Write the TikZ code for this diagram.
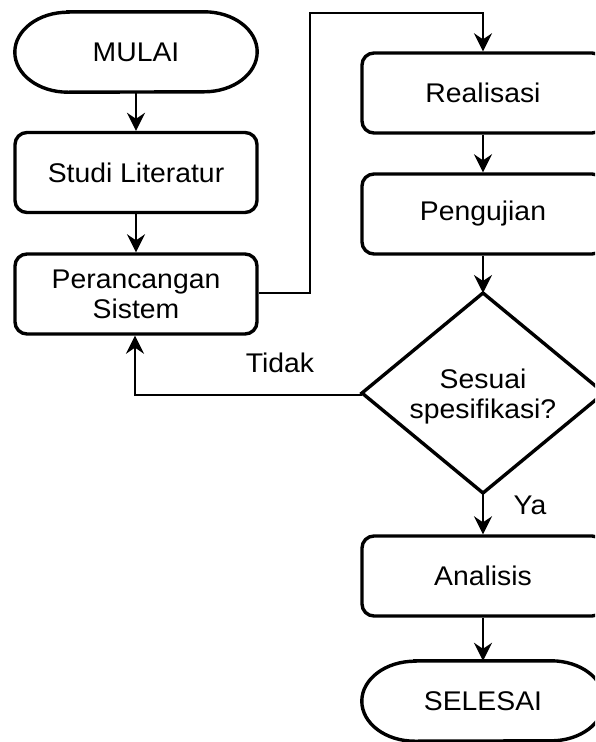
\documentclass[tikz,border=0pt]{standalone}
\usepackage{fontspec}
\setmainfont{Liberation Sans}[FakeStretch=1.05]
\usetikzlibrary{arrows.meta,shapes.geometric,calc}
\begin{document}
\begin{tikzpicture}[x=1pt,y=-1pt,
  lbl/.style={font=\fontsize{27}{30}\selectfont, align=center, inner sep=0pt},
  procbox/.style={lbl, draw, line width=3.4pt, rounded corners=12pt, minimum width=242pt, minimum height=80pt},
  termbox/.style={lbl, minimum width=242pt, minimum height=80pt},
  conn/.style={line width=2.2pt, -{Stealth[length=18pt,width=18pt,inset=6pt]}},
]
\clip (0,0) rectangle (595,742);
\useasboundingbox (0,0) rectangle (595,742);

\node[termbox] (mulai) at (136,52) {MULAI};
\node[procbox] (studi) at (136,172.5) {Studi Literatur};
\node[procbox] (ranc) at (136,294) {Perancangan\\Sistem};
\node[procbox] (real) at (483,93) {Realisasi};
\node[procbox] (uji) at (483,214) {Pengujian};
\node[lbl, diamond, minimum width=242pt, minimum height=200pt, inner sep=0pt] (dec) at (483,393) {};
\node[lbl] (dectxt) at (483,397) {Sesuai\\spesifikasi?};
\node[procbox] (anal) at (483,576) {Analisis};
\node[termbox] (selesai) at (483,701) {SELESAI};

% decision outline
\draw[line width=3.4pt, line join=miter] (362,393) -- (483,293) -- (604,393) -- (483,493) -- cycle;

% terminators
\draw[line width=3.4pt] ($(mulai.north west)+(53,0)$) -- ($(mulai.north east)+(-53,0)$)
  arc[start angle=90,end angle=-90,x radius=53pt,y radius=40pt]
  -- ($(mulai.south west)+(53,0)$)
  arc[start angle=270,end angle=90,x radius=53pt,y radius=40pt] -- cycle;
\draw[line width=3.4pt] ($(selesai.north west)+(53,0)$) -- ($(selesai.north east)+(-53,0)$)
  arc[start angle=90,end angle=-90,x radius=53pt,y radius=40pt]
  -- ($(selesai.south west)+(53,0)$)
  arc[start angle=270,end angle=90,x radius=53pt,y radius=40pt] -- cycle;

\coordinate (c1) at (310,293);
\coordinate (c2) at (310,13);
\coordinate (c3) at (483,13);
\coordinate (d1) at (135,395);
\coordinate (dtop) at (483,293);
\coordinate (dbot) at (483,493);
\coordinate (dleft) at (362,395);

\draw[conn] (mulai.south) -- (studi.north);
\draw[conn] (studi.south) -- (ranc.north);
\draw[conn] (ranc.east |- c1) -- (c1) -- (c2) -- (c3) -- (real.north);
\draw[conn] (real.south) -- (uji.north);
\draw[conn] (uji.south) -- (dtop);
\draw[conn] (dbot) -- (anal.north);
\draw[conn] (anal.south) -- (selesai.north);
\draw[conn] (dleft) -- (d1) -- (ranc.south -| d1);

\node[lbl] (tidak) at (280,363) {Tidak};
\node[lbl] (ya) at (530,505) {Ya};
\end{tikzpicture}
\end{document}
